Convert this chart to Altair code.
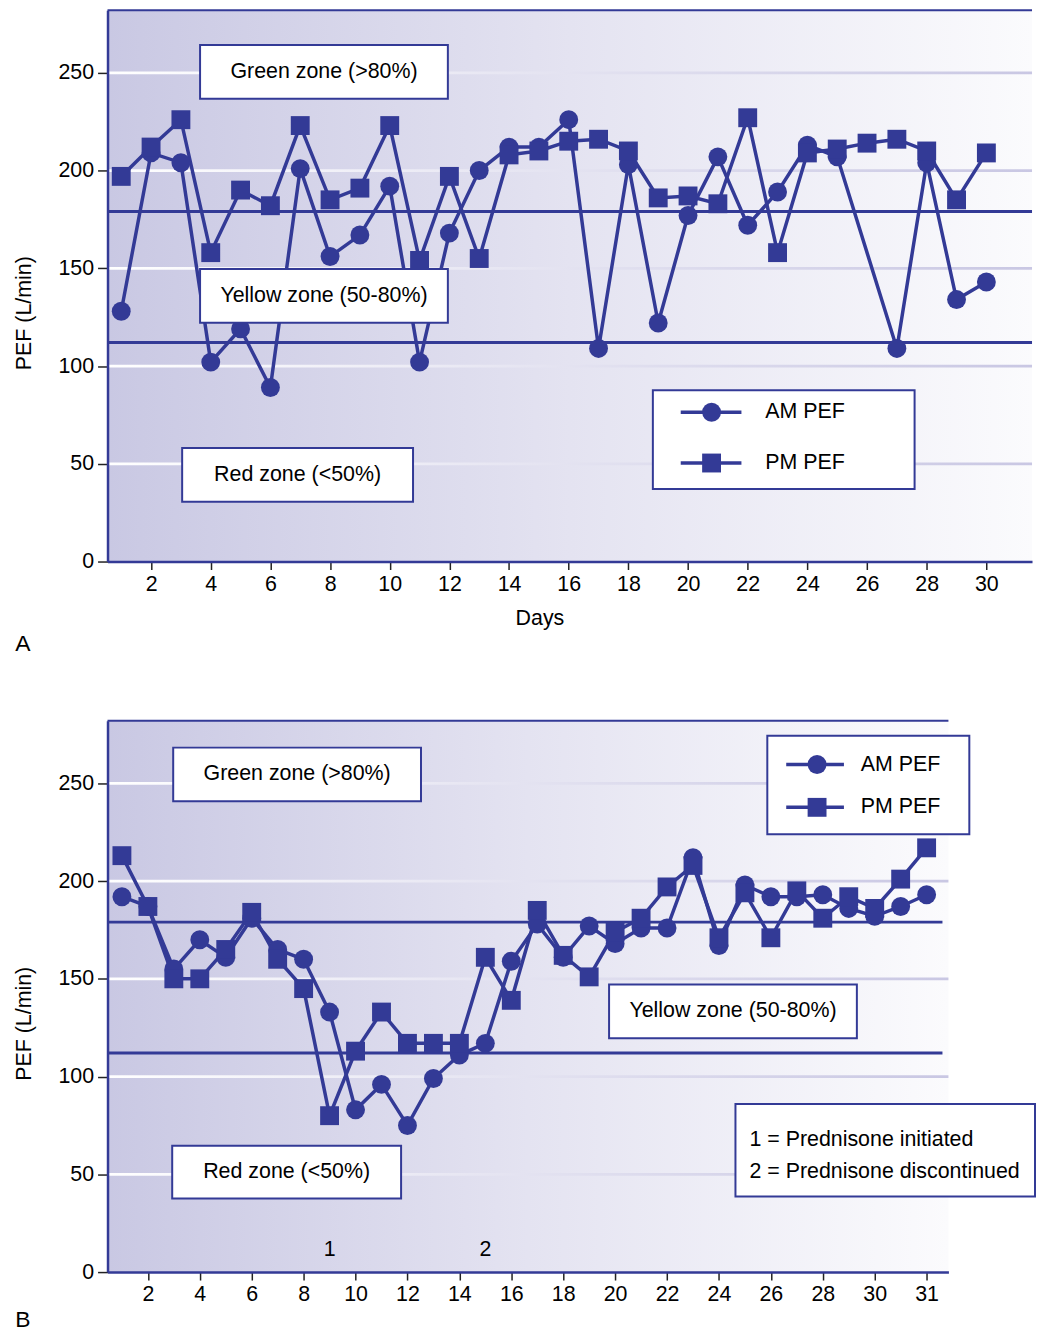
import altair as alt
import pandas as pd

# ---------------- data ----------------
days_a = list(range(1, 31))
am_a = [128, 209, 204, 102, 119, 89, 201, 156, 167, 192, 102, 168, 200, 212, 212,
        226, 109, 203, 122, 177, 207, 172, 189, 213, 207, None, 109, 204, 134, 143]
pm_a = [197, 212, 226, 158, 190, 182, 223, 185, 191, 223, 154, 197, 155, 208, 210,
        215, 216, 210, 186, 187, 183, 227, 158, 209, 211, 214, 216, 210, 185, 209]

days_b = list(range(1, 33))
am_b = [192, 187, 155, 170, 161, 181, 165, 160, 133, 83, 96, 75, 99, 111, 117, 159,
        178, 161, 177, 168, 176, 176, 212, 167, 198, 192, 192, 193, 186, 182, 187, 193]
pm_b = [213, 187, 150, 150, 165, 184, 160, 145, 80, 113, 133, 117, 117, 117, 161, 139,
        185, 162, 151, 174, 181, 197, 208, 171, 194, 171, 195, 181, 192, 186, 201, 217]

zone_limits = [179, 112]          # 80 % and 50 % of personal best
grid_values = [50, 100, 150, 200, 250]
y_ticks = [0, 50, 100, 150, 200, 250]
x_ticks_a = list(range(2, 31, 2))
x_labels_a = [str(v) for v in x_ticks_a]
x_ticks_b = list(range(2, 31, 2)) + [32]
x_labels_b = [str(v) for v in range(2, 31, 2)] + ["31"]
event_days = [9, 15]
event_labels = ["1", "2"]
series_names = ["AM", "PM"]
legend_labels = ["AM PEF", "PM PEF"]

# ---------------- style ----------------
BLUE = "#333a96"
FONT = "Liberation Sans"
FS = 21.5
H = 554
Y_DOMAIN = [0, 282]

bg_grad = alt.LinearGradient(
    gradient="linear", x1=0, x2=1, y1=0, y2=0,
    stops=[alt.GradientStop(color="#c9c8e3", offset=0),
           alt.GradientStop(color="#e4e3f1", offset=0.5),
           alt.GradientStop(color="#fbfbfd", offset=1)])
grid_grad = alt.LinearGradient(
    gradient="linear", x1=0, x2=1, y1=0, y2=0,
    stops=[alt.GradientStop(color="#ffffff", offset=0),
           alt.GradientStop(color="#e6e5f2", offset=0.45),
           alt.GradientStop(color="#c9c7e3", offset=1)])


def one():
    return pd.DataFrame({"k": [0]})


def long_df(days, am, pm):
    rows = []
    for name, vals in zip(series_names, [am, pm]):
        for d, v in zip(days, vals):
            if v is not None:
                rows.append({"day": d, "pef": v, "session": name})
    return pd.DataFrame(rows)


def label_expr(values, labels):
    parts = " : ".join(f"datum.value == {v} ? '{l}'" for v, l in zip(values, labels))
    return parts + " : ''"


def panel(days, am, pm, width, x_domain, x_ticks, x_labels, x_title,
          boxes, legend, note, letter, events=None, zone_w=None):
    df = long_df(days, am, pm)
    x_axis = alt.Axis(values=x_ticks, labelExpr=label_expr(x_ticks, x_labels),
                      title=x_title if x_title else None,
                      titleX=434, titleY=57, titleBaseline="middle",
                      titleFontSize=FS, titleFontWeight="normal", titleColor="black",
                      domainColor=BLUE, domainWidth=2.5, tickColor="#222222",
                      tickWidth=1.5, tickSize=8, labelFontSize=FS, labelColor="black",
                      labelPadding=4, labelFlush=False, grid=False, zindex=1)
    y_axis = alt.Axis(values=y_ticks, title="PEF (L/min)", titleX=-72, titleY=304,
                      titleFontSize=FS, titleFontWeight="normal", titleColor="black",
                      domainColor=BLUE, domainWidth=2.5, tickColor="#222222",
                      tickWidth=1.5, tickSize=10, labelFontSize=FS, labelColor="black",
                      labelPadding=4, grid=False, zindex=1)
    X = alt.X("day:Q", scale=alt.Scale(domain=x_domain, nice=False, zero=False), axis=x_axis)
    Y = alt.Y("pef:Q", scale=alt.Scale(domain=Y_DOMAIN, nice=False), axis=y_axis)

    layers = []
    layers.append(alt.Chart(one()).mark_rect(fill=bg_grad).encode(
        x=alt.value(0), x2=alt.value(width), y=alt.value(0), y2=alt.value(H)))
    layers.append(alt.Chart(pd.DataFrame({"g": grid_values}))
                  .transform_calculate(lo="datum.g - 0.7", hi="datum.g + 0.7")
                  .mark_rect(fill=grid_grad)
                  .encode(y="lo:Q", y2="hi:Q", x=alt.value(0), x2=alt.value(width)))
    layers.append(alt.Chart(one()).mark_rule(color=BLUE, strokeWidth=2).encode(
        y=alt.value(0), x=alt.value(0), x2=alt.value(width)))
    layers.append(alt.Chart(pd.DataFrame({"pef": zone_limits}))
                  .mark_rule(color=BLUE, strokeWidth=3)
                  .encode(y="pef:Q", x=alt.value(0), x2=alt.value(zone_w or width)))
    base = alt.Chart(df).encode(x=X, y=Y)
    layers.append(base.mark_line(color=BLUE, strokeWidth=3.5).encode(detail="session:N"))
    layers.append(base.mark_point(filled=True, opacity=1, size=360, color=BLUE).encode(
        shape=alt.Shape("session:N", scale=alt.Scale(domain=series_names,
                                                      range=["circle", "square"]),
                        legend=None)))

    def box(x1, x2, y1, y2):
        return alt.Chart(one()).mark_rect(fill="white", stroke=BLUE, strokeWidth=2).encode(
            x=alt.value(x1), x2=alt.value(x2), y=alt.value(y1), y2=alt.value(y2))

    def txt(s, x, y, align="center"):
        return alt.Chart(one()).mark_text(text=s, fontSize=FS, color="black", align=align,
                                          baseline="middle").encode(
            x=alt.value(x), y=alt.value(y))

    for (s, x1, x2, y1, y2) in boxes:
        layers.append(box(x1, x2, y1, y2))
        layers.append(txt(s, (x1 + x2) / 2, (y1 + y2) / 2))

    (bx1, bx2, by1, by2, rows_y, lx1, lx2, mx, tx) = legend
    layers.append(box(bx1, bx2, by1, by2))
    for lab, shp, ry in zip(legend_labels, ["circle", "square"], rows_y):
        layers.append(alt.Chart(one()).mark_rule(color=BLUE, strokeWidth=3.5).encode(
            x=alt.value(lx1), x2=alt.value(lx2), y=alt.value(ry)))
        layers.append(alt.Chart(one()).mark_point(filled=True, opacity=1, size=360,
                                                   color=BLUE, shape=shp).encode(
            x=alt.value(mx), y=alt.value(ry)))
        layers.append(txt(lab, tx, ry, align="left"))

    if note:
        (nx1, nx2, ny1, ny2, lines, ntx) = note
        layers.append(box(nx1, nx2, ny1, ny2))
        for s, ly in lines:
            layers.append(txt(s, ntx, ly, align="left"))

    if events:
        layers.append(alt.Chart(pd.DataFrame({"day": event_days, "label": event_labels}))
                      .mark_text(fontSize=FS, color="black", baseline="middle")
                      .encode(x="day:Q", y=alt.value(events), text="label:N"))

    layers.append(alt.Chart(one()).mark_text(text=letter[0], fontSize=23, color="black",
                                             baseline="middle").encode(
        x=alt.value(letter[1]), y=alt.value(letter[2])))

    return alt.layer(*layers).properties(width=width, height=H)


panel_a = panel(
    days_a, am_a, pm_a, 929, [0.54, 31.53], x_ticks_a, x_labels_a, "Days",
    boxes=[("Green zone (>80%)", 93, 342, 35, 89),
           ("Yellow zone (50-80%)", 93, 342, 260, 314),
           ("Red zone (<50%)", 75, 307, 440, 494)],
    legend=(548, 811, 382, 481, [404, 455], 576, 637, 607, 661),
    note=None, letter=("A", -85, 637))

panel_b = panel(
    days_b, am_b, pm_b, 845, [0.445, 32.84], x_ticks_b, x_labels_b, None,
    boxes=[("Green zone (>80%)", 66, 315, 27, 81),
           ("Yellow zone (50-80%)", 504, 753, 265, 319),
           ("Red zone (<50%)", 65, 295, 427, 480)],
    legend=(663, 866, 15, 114, [44, 87], 682, 740, 713, 757),
    note=(631, 932, 385, 478,
          [("1 = Prednisone initiated", 421), ("2 = Prednisone discontinued", 453)], 645),
    letter=("B", -85, 602), events=532, zone_w=839)

chart = alt.vconcat(panel_a, panel_b, spacing=64).properties(
    padding={"left": 6, "top": -2, "right": 0, "bottom": 0}
).configure(font=FONT).configure_view(stroke=None)

chart.save("out.html", embed_options={"renderer": "svg", "actions": False})
